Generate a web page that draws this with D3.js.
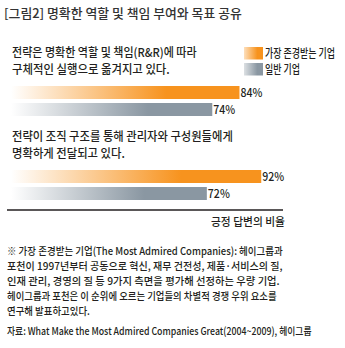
<!DOCTYPE html>
<html><head><meta charset="utf-8">
<script src="https://cdn.jsdelivr.net/npm/d3@7"></script>
<style>
html,body{margin:0;padding:0;background:#fff;}
svg{display:block;}
text{font-family:"Noto Sans CJK KR","Noto Sans",sans-serif;fill:#231f20;font-weight:500;}
</style></head><body>
<script>
const title = "[그림2] 명확한 역할 및 책임 부여와 목표 공유";
const categories = ["q1", "q2"];
const questionLines = [
  ["전략은 명확한 역할 및 책임(R&R)에 따라", "구체적인 실행으로 옮겨지고 있다."],
  ["전략이 조직 구조를 통해 관리자와 구성원들에게", "명확하게 전달되고 있다."]
];
const seriesNames = ["가장 존경받는 기업", "일반 기업"];
const admiredValues = [84, 92];
const generalValues = [74, 72];
const seriesColors = ["#f7931e", "#8a97a2"];
const axisLabel = "긍정 답변의 비율";
const footnoteLines = [
  "※ 가장 존경받는 기업(The Most Admired Companies): 헤이그룹과",
  "포천이 1997년부터 공동으로 혁신, 재무 건전성, 제품·서비스의 질,",
  "인재 관리, 경영의 질 등 9가지 측면을 평가해 선정하는 우량 기업.",
  "헤이그룹과 포천은 이 순위에 오르는 기업들의 차별적 경쟁 우위 요소를",
  "연구해 발표하고있다."
];
const sourceLine = "자료: What Make the Most Admired Companies Great(2004~2009), 헤이그룹";

const W = 345, H = 348;
const svg = d3.select("body").append("svg").attr("width", W).attr("height", H);
const defs = svg.append("defs");

seriesColors.forEach((c, i) => {
  const g = defs.append("linearGradient").attr("id", "bar" + i)
    .attr("x1", "0").attr("x2", "1").attr("y1", "0").attr("y2", "0");
  g.append("stop").attr("offset", "0").attr("stop-color", "#ffffff");
  g.append("stop").attr("offset", "0.68").attr("stop-color", c);
  g.append("stop").attr("offset", "1").attr("stop-color", c);
  const l = defs.append("linearGradient").attr("id", "leg" + i)
    .attr("x1", "0").attr("x2", "1").attr("y1", "0").attr("y2", "0");
  l.append("stop").attr("offset", "0").attr("stop-color", d3.interpolateRgb("#ffffff", c)(0.3));
  l.append("stop").attr("offset", "0.7").attr("stop-color", c);
  l.append("stop").attr("offset", "1").attr("stop-color", c);
});

// Draw text horizontally condensed to a target width via a scale transform
function fitText(sel, x, y, str, size, width, anchor) {
  const g = sel.append("g");
  const t = g.append("text").attr("x", 0).attr("y", 0)
    .attr("font-size", size).text(str);
  const natural = t.node().getComputedTextLength();
  const k = width ? width / natural : 1;
  const x0 = anchor === "end" ? x - natural * k : x;
  g.attr("transform", `translate(${x0},${y}) scale(${k},1)`);
  return t;
}

// Title
fitText(svg, 4, 18, title, 13, 238).style("fill", "#333");

// Scales
const x = d3.scaleLinear().domain([0, 100]).range([11, 283]);
const yGroup = d3.scalePoint().domain(categories).range([86, 170]);
const ySeries = d3.scaleBand().domain(seriesNames).range([0, 30]).paddingInner(0.235).paddingOuter(0);

const qWidths = [[185, 158], [221, 113]];
categories.forEach((cat, gi) => {
  const gy = yGroup(cat);
  questionLines[gi].forEach((line, li) => {
    fitText(svg, 12, gy - 29 + li * 17, line, 12, qWidths[gi][li]);
  });
  const vals = [admiredValues[gi], generalValues[gi]];
  seriesNames.forEach((s, si) => {
    const y = gy + ySeries(s);
    svg.append("rect")
      .attr("x", x(0)).attr("y", y)
      .attr("width", x(vals[si]) - x(0)).attr("height", ySeries.bandwidth())
      .attr("fill", "url(#bar" + si + ")");
    fitText(svg, x(vals[si]) + 1, y + ySeries.bandwidth() / 2 + 4.5, vals[si] + "%", 12, 22);
  });
});

// Legend
const legW = [70, 35];
seriesNames.forEach((s, i) => {
  const ly = 47 + i * 16;
  svg.append("rect").attr("x", 244).attr("y", ly).attr("width", 19).attr("height", 12.5)
    .attr("fill", "url(#leg" + i + ")");
  fitText(svg, 265, ly + 10.5, s, 12, legW[i]);
});

// Axis line
const axis = d3.axisBottom(x).tickValues([]).tickSizeOuter(0);
const axG = svg.append("g").attr("transform", "translate(0,210)").call(axis);
axG.select(".domain").attr("stroke", "#231f20").attr("stroke-width", 1.5)
  .attr("d", "M7,0H" + x(100));
fitText(svg, 285, 226, axisLabel, 11.5, 74, "end");

// Footnote
const fnW = [276, 276, 273, 270, 83];
footnoteLines.forEach((line, i) => {
  fitText(svg, 7, 255 + i * 15, line, 10.5, fnW[i]);
});
fitText(svg, 7, 335, sourceLine, 10.5, 305);
</script>
</body></html>
